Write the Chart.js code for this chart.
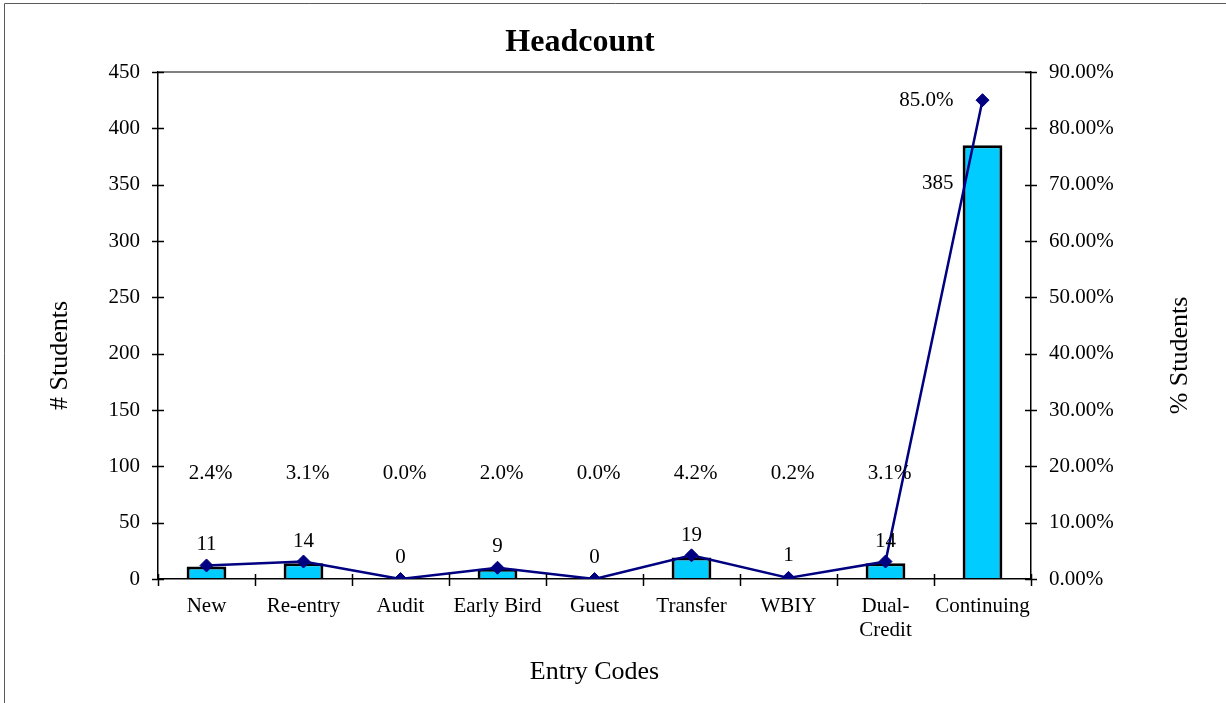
<!DOCTYPE html>
<html>
<head>
<meta charset="utf-8">
<title>Headcount</title>
<script src="https://cdn.jsdelivr.net/npm/chart.js@4.4.1/dist/chart.umd.min.js"></script>
<style>
  html, body { margin: 0; padding: 0; background: #fff; }
</style>
</head>
<body>
<canvas id="headcountChart" width="1226" height="703"></canvas>
<script>
const entryCodes = ['New', 'Re-entry', 'Audit', 'Early Bird', 'Guest', 'Transfer', 'WBIY', ['Dual-', 'Credit'], 'Continuing'];
const studentCounts = [11, 14, 0, 9, 0, 19, 1, 14, 385];
const studentPercents = [2.4, 3.1, 0.0, 2.0, 0.0, 4.2, 0.2, 3.1, 85.0];
const countMax = 450, countStep = 50;
const percentMax = 90, percentStep = 10;

const FONT = '"Liberation Serif", "Times New Roman", serif';

// white page, frame, title, cross tick marks, axis titles and the data labels
const decorations = {
  id: 'decorations',
  beforeDraw(chart) {
    const ctx = chart.ctx;
    ctx.save();
    ctx.fillStyle = '#fff';
    ctx.fillRect(0, 0, chart.width, chart.height);
    ctx.strokeStyle = '#5a5a5a';
    ctx.lineWidth = 1;
    ctx.beginPath();
    ctx.moveTo(4.5, chart.height);
    ctx.lineTo(4.5, 3.5);
    ctx.lineTo(chart.width, 3.5);
    ctx.stroke();

    ctx.fillStyle = '#000';
    ctx.font = 'bold 32px ' + FONT;
    ctx.textAlign = 'center';
    ctx.textBaseline = 'middle';
    ctx.fillText('Headcount', 580, 43);
    ctx.restore();
  },
  afterDraw(chart) {
    const ctx = chart.ctx;
    const area = chart.chartArea;
    const y = chart.scales.y, y1 = chart.scales.y1;
    ctx.save();
    ctx.strokeStyle = '#000';
    ctx.lineWidth = 1.5;
    ctx.beginPath();
    y.ticks.forEach(t => {
      const py = Math.round(y.getPixelForValue(t.value)) + 0.5;
      ctx.moveTo(area.left - 6, py);
      ctx.lineTo(area.left + 6, py);
    });
    y1.ticks.forEach(t => {
      const py = Math.round(y1.getPixelForValue(t.value)) + 0.5;
      ctx.moveTo(area.right - 6, py);
      ctx.lineTo(area.right + 6, py);
    });
    const n = entryCodes.length;
    for (let i = 0; i <= n; i++) {
      const px = Math.round(area.left + i * (area.right - area.left) / n) + 0.5;
      ctx.moveTo(px, area.bottom - 5);
      ctx.lineTo(px, area.bottom + 7);
    }
    ctx.stroke();

    // axis titles
    ctx.fillStyle = '#000';
    ctx.font = '26px ' + FONT;
    ctx.textAlign = 'center';
    ctx.textBaseline = 'middle';
    const midY = (area.top + area.bottom) / 2 + 30;
    [['# Students', 60], ['% Students', 1180]].forEach(([txt, x]) => {
      ctx.save();
      ctx.translate(x, midY);
      ctx.rotate(-Math.PI / 2);
      ctx.fillText(txt, 0, 0);
      ctx.restore();
    });

    // data labels
    const barMeta = chart.getDatasetMeta(0);
    const lineMeta = chart.getDatasetMeta(1);
    const biggest = studentCounts.indexOf(Math.max(...studentCounts));
    ctx.font = '21px ' + FONT;
    studentCounts.forEach((v, i) => {
      const bar = barMeta.data[i];
      if (i === biggest) {
        ctx.textAlign = 'right';
        ctx.fillText(String(v), bar.x - bar.width / 2 - 9, bar.y + 38);
      } else {
        ctx.textAlign = 'center';
        ctx.fillText(String(v), bar.x, bar.y - 22);
      }
    });
    const rowY = y.getPixelForValue(94);
    studentPercents.forEach((p, i) => {
      const pt = lineMeta.data[i];
      const txt = p.toFixed(1) + '%';
      if (i === biggest) {
        ctx.textAlign = 'right';
        ctx.fillText(txt, pt.x - 29, pt.y);
      } else {
        ctx.textAlign = 'center';
        ctx.fillText(txt, pt.x + 4, rowY);
      }
    });
    ctx.restore();
  }
};

new Chart(document.getElementById('headcountChart'), {
  type: 'bar',
  data: {
    labels: entryCodes,
    datasets: [{
      type: 'bar',
      label: '# Students',
      data: studentCounts,
      yAxisID: 'y',
      backgroundColor: '#00CCFF',
      borderColor: '#000',
      borderWidth: 3,
      barPercentage: 0.41,
      categoryPercentage: 1,
      order: 1
    }, {
      type: 'line',
      label: '% Students',
      data: studentPercents,
      yAxisID: 'y1',
      borderColor: '#000080',
      borderWidth: 2.5,
      pointStyle: 'rectRot',
      pointRadius: 6.5,
      pointBorderWidth: 1,
      pointBackgroundColor: '#000080',
      pointBorderColor: '#000080',
      tension: 0,
      order: 0
    }]
  },
  options: {
    responsive: false,
    animation: false,
    devicePixelRatio: 1,
    layout: { padding: { top: 72, left: 0, right: 0, bottom: 0 } },
    plugins: {
      legend: { display: false },
      tooltip: { enabled: false },
      title: { display: false }
    },
    scales: {
      x: {
        grid: { display: true, drawOnChartArea: false, drawTicks: false },
        border: { color: '#000', width: 1.5 },
        ticks: {
          color: '#000',
          font: { family: FONT, size: 21, lineHeight: 1.15 },
          padding: 15,
          maxRotation: 0,
          autoSkip: false
        },
        title: {
          display: true,
          text: 'Entry Codes',
          color: '#000',
          font: { family: FONT, size: 26 },
          padding: { top: 0, bottom: 15 }
        },
        afterFit(scale) { scale.height = 124; }
      },
      y: {
        position: 'left',
        min: 0,
        max: countMax,
        grid: {
          drawTicks: false,
          color: ctx => ctx.tick && ctx.tick.value === countMax ? '#808080' : 'transparent',
          lineWidth: 2
        },
        border: { color: '#000', width: 1.5 },
        ticks: {
          stepSize: countStep,
          color: '#000',
          font: { family: FONT, size: 21 },
          padding: 18
        },
        afterFit(scale) { scale.width = 158; }
      },
      y1: {
        position: 'right',
        min: 0,
        max: percentMax,
        grid: { drawOnChartArea: false, drawTicks: false },
        border: { color: '#000', width: 1.5 },
        ticks: {
          stepSize: percentStep,
          color: '#000',
          font: { family: FONT, size: 21 },
          padding: 18,
          callback: v => v.toFixed(2) + '%'
        },
        afterFit(scale) { scale.width = 195; }
      }
    }
  },
  plugins: [decorations]
});
</script>
</body>
</html>
